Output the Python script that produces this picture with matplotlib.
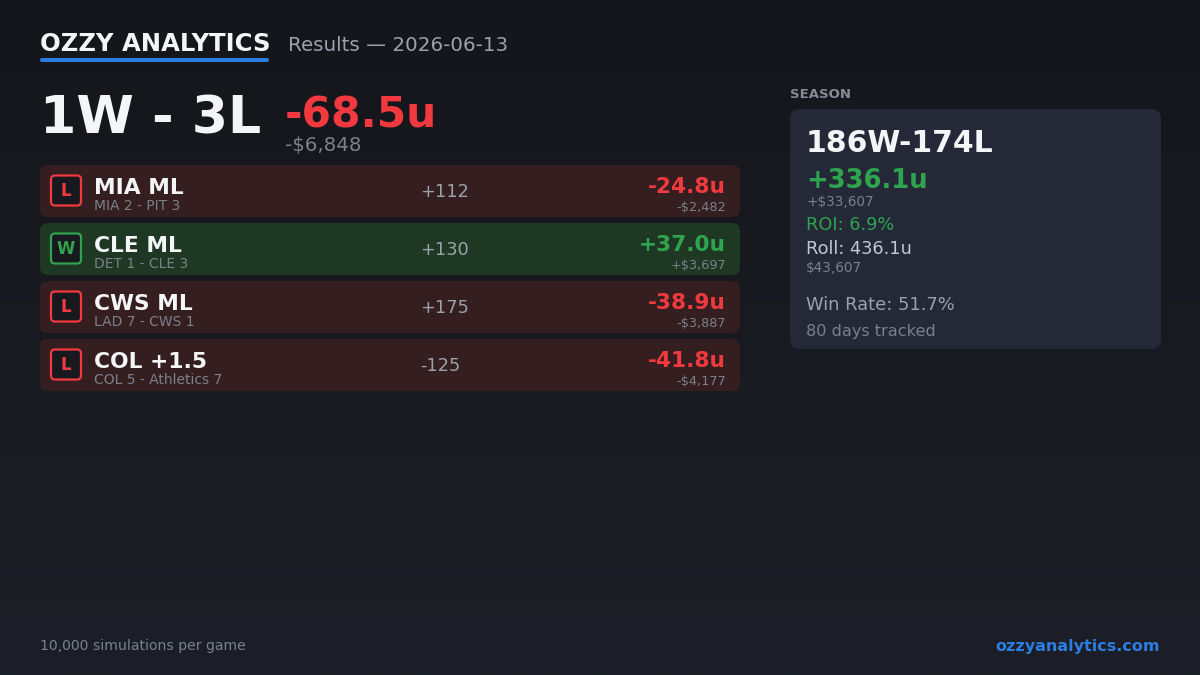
import matplotlib
matplotlib.use("Agg")
import matplotlib.pyplot as plt
from matplotlib.patches import FancyBboxPatch
import numpy as np

plt.rcParams['font.family'] = ['DejaVu Sans']

# ---- data ----
brand = "OZZY ANALYTICS"
subtitle = "Results — 2026-06-13"
day_record = "1W - 3L"
day_units = "-68.5u"
day_dollars = "-$6,848"

results = ["L", "W", "L", "L"]
bets = ["MIA ML", "CLE ML", "CWS ML", "COL +1.5"]
scores = ["MIA 2 - PIT 3", "DET 1 - CLE 3", "LAD 7 - CWS 1", "COL 5 - Athletics 7"]
odds = ["+112", "+130", "+175", "-125"]
units = ["-24.8u", "+37.0u", "-38.9u", "-41.8u"]
dollars = ["-$2,482", "+$3,697", "-$3,887", "-$4,177"]

season_record = "186W-174L"
season_units = "+336.1u"
season_dollars = "+$33,607"
season_roi = "ROI: 6.9%"
season_roll = "Roll: 436.1u"
season_roll_dollars = "$43,607"
season_winrate = "Win Rate: 51.7%"
season_days = "80 days tracked"

footer_left = "10,000 simulations per game"
footer_right = "ozzyanalytics.com"

# ---- colors ----
RED = "#f2393f"
GREEN = "#2ea44f"
WHITE = "#f4f5f7"
GRAY = "#9ca1ab"
DIM = "#7b808a"
BLUE = "#2a7de1"
ROW_L = "#351e1f"
ROW_W = "#1f3823"
CARD = "#252836"

fig = plt.figure(figsize=(12, 6.75), dpi=100)
ax = fig.add_axes([0, 0, 1, 1])
ax.set_xlim(0, 1200)
ax.set_ylim(675, 0)
ax.axis('off')

# background gradient
grad = np.linspace(0, 1, 256).reshape(-1, 1)
top = np.array([0x15, 0x16, 0x1b]) / 255
bot = np.array([0x1c, 0x1f, 0x27]) / 255
img = top + (bot - top) * grad[:, :, None]
img = np.repeat(img, 2, axis=1)
ax.imshow(img, extent=[0, 1200, 675, 0], aspect='auto', zorder=0)

def rbox(x, y, w, h, r, fc, ec='none', lw=0, z=1):
    p = FancyBboxPatch((x + r, y + r), w - 2 * r, h - 2 * r,
                       boxstyle=f"round,pad={r}", fc=fc, ec=ec, lw=lw, zorder=z,
                       mutation_aspect=1)
    ax.add_patch(p)

# header
ax.text(40, 51, brand, fontsize=17.5, fontweight='bold', color=WHITE, va='baseline', ha='left', zorder=3)
rbox(40, 58, 229, 4, 2, BLUE, z=3)
ax.text(288, 51, subtitle, fontsize=14.3, color=GRAY, va='baseline', ha='left', zorder=3)

ax.text(40, 133, day_record, fontsize=37.5, fontweight='bold', color=WHITE, va='baseline', ha='left', zorder=3)
ax.text(285, 127, day_units, fontsize=30.5, fontweight='bold',
        color=RED if day_units.startswith('-') else GREEN, va='baseline', ha='left', zorder=3)
ax.text(285, 151, day_dollars, fontsize=14.2, color=DIM, va='baseline', ha='left', zorder=3)

# rows
row_top0 = 165
row_h = 52
row_step = 58
for i, (res, bet, sc, od, u, d) in enumerate(zip(results, bets, scores, odds, units, dollars)):
    y0 = row_top0 + i * row_step
    win = res == "W"
    col = GREEN if win else RED
    rbox(40, y0, 700, row_h, 8, ROW_W if win else ROW_L, z=1)
    # badge
    rbox(51, y0 + 10.5, 30, 30, 4, "#18191e", ec=col, lw=1.6, z=2)
    ax.text(66, y0 + 25.5, res, fontsize=12, fontweight='bold', color=col,
            ha='center', va='center', zorder=3)
    ax.text(94, y0 + 29, bet, fontsize=15.7, fontweight='bold', color=WHITE, va='baseline', ha='left', zorder=3)
    ax.text(94, y0 + 45, sc, fontsize=10, color=DIM, va='baseline', ha='left', zorder=3)
    ax.text(420, y0 + 32, od, fontsize=12.8, color=GRAY, va='baseline', ha='left', zorder=3)
    ax.text(726, y0 + 28, u, fontsize=15.6, fontweight='bold',
            color=GREEN if u.startswith('+') else RED, va='baseline', ha='right', zorder=3)
    ax.text(726, y0 + 46, d, fontsize=9.3, color=DIM, va='baseline', ha='right', zorder=3)

# season card
ax.text(790, 98, "SEASON", fontsize=9.5, fontweight='bold', color="#868b95", va='baseline', ha='left', zorder=3)
rbox(790, 109, 371, 240, 10, CARD, z=1)
cx = 806
ax.text(cx, 152, season_record, fontsize=21.5, fontweight='bold', color=WHITE, va='baseline', ha='left', zorder=3)
ax.text(cx, 188, season_units, fontsize=18.6, fontweight='bold', color=GREEN, va='baseline', ha='left', zorder=3)
ax.text(cx, 206, season_dollars, fontsize=9.8, color=DIM, va='baseline', ha='left', zorder=3)
ax.text(cx, 230, season_roi, fontsize=12.8, color=GREEN, va='baseline', ha='left', zorder=3)
ax.text(cx, 254, season_roll, fontsize=12.8, color="#c4c8cf", va='baseline', ha='left', zorder=3)
ax.text(cx, 272, season_roll_dollars, fontsize=9.8, color=DIM, va='baseline', ha='left', zorder=3)
ax.text(cx, 310, season_winrate, fontsize=12.9, color=GRAY, va='baseline', ha='left', zorder=3)
ax.text(cx, 336, season_days, fontsize=11.6, color=DIM, va='baseline', ha='left', zorder=3)

# footer
ax.text(40, 650, footer_left, fontsize=10.1, color=DIM, va='baseline', ha='left', zorder=3)
ax.text(1160, 651, footer_right, fontsize=11.5, fontweight='bold', color=BLUE, va='baseline', ha='right', zorder=3)

fig.savefig("out.png", dpi=100, facecolor="#16171c")
